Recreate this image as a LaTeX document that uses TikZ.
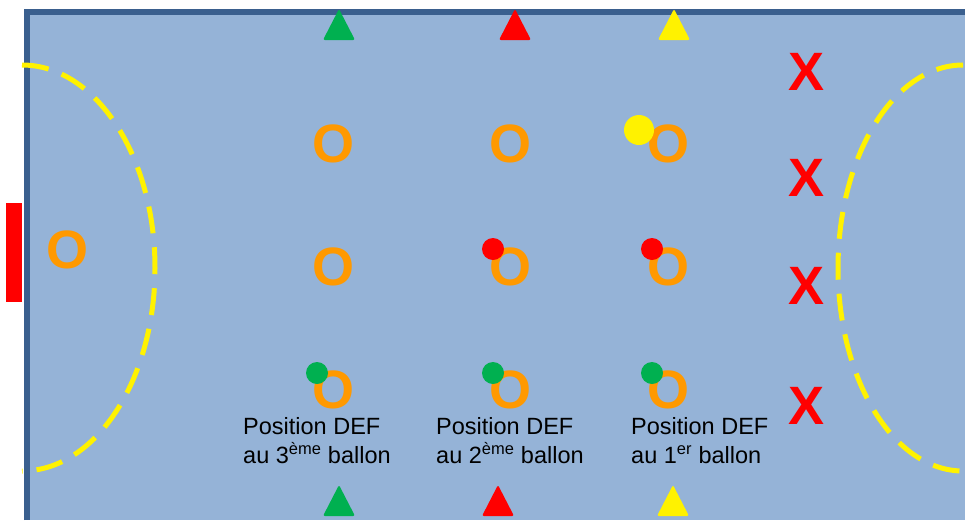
\documentclass[tikz,border=0pt]{standalone}
\usepackage{fontspec}
\setmainfont{Liberation Sans}
\usepackage{tikz}
\usetikzlibrary{positioning}

\definecolor{terrain}{HTML}{95B3D7}
\definecolor{bord}{HTML}{3A5F8E}
\definecolor{orangeatt}{HTML}{FF9900}
\definecolor{vert}{HTML}{00B050}

\begin{document}
\begin{tikzpicture}[
x=1pt,
y=-1pt,
att/.style={
	text=orangeatt,
	font=\fontsize{54}{54}\selectfont\bfseries,
	inner sep=0pt
},
def/.style={
	text=red,
	font=\fontsize{54}{54}\selectfont\bfseries,
	inner sep=0pt
},
ballon/.style={
	circle,
	inner sep=0pt,
	minimum size=22pt
},
cone/.style={
	rounded corners=2pt
},
zone/.style={
	draw=yellow,
	line width=5pt,
	dash pattern=on 27pt off 14pt
},
legende/.style={
	anchor=north west,
	align=left,
	inner sep=0pt,
	font=\fontsize{23.5}{29}\selectfont
}
]

\useasboundingbox (0,0) rectangle (965,520);

% Terrain
\fill[terrain] (27,12) rectangle (965,520);
\draw[bord, line width=6pt] (27,520) -- (27,12) -- (965,12);
\fill[red] (6,203) rectangle (22,302);

% Zones
\draw[zone] (22,65) arc[start angle=-90, end angle=90, x radius=133, y radius=203];
\draw[zone] (963,65) arc[start angle=-90, end angle=-270, x radius=125, y radius=203];

% Plots
\fill[cone, vert] (339,9) -- (355,40) -- (323,40) -- cycle;
\fill[cone, red] (515,9) -- (531,40) -- (499,40) -- cycle;
\fill[cone, yellow] (674,9) -- (690,40) -- (658,40) -- cycle;
\fill[cone, vert] (339,485) -- (355,516) -- (323,516) -- cycle;
\fill[cone, red] (498,485) -- (514,516) -- (482,516) -- cycle;
\fill[cone, yellow] (673,485) -- (689,516) -- (657,516) -- cycle;

% Attaquants
\node [att] (Gardien) at (68,250) {O};
\node [att] (Att 1) at (333,144) {O};
\node [att] (Att 2) at (510,144) {O};
\node [att] (Att 3) at (668,144) {O};
\node [att] (Att 4) at (333,267) {O};
\node [att] (Att 5) at (510,267) {O};
\node [att] (Att 6) at (668,267) {O};
\node [att] (Att 7) at (333,390) {O};
\node [att] (Att 8) at (510,390) {O};
\node [att] (Att 9) at (668,390) {O};

% Defenseurs
\node [def] (Def 1) at (806,72) {X};
\node [def] (Def 2) at (806,178) {X};
\node [def] (Def 3) at (806,286) {X};
\node [def] (Def 4) at (806,406) {X};

% Ballons
\node [ballon, fill=yellow, minimum size=30pt] (Ballon J) at (639,130) {};
\node [ballon, fill=red] (Ballon R1) at (493,249) {};
\node [ballon, fill=red] (Ballon R2) at (652,249) {};
\node [ballon, fill=vert] (Ballon V1) at (317,373) {};
\node [ballon, fill=vert] (Ballon V2) at (493,373) {};
\node [ballon, fill=vert] (Ballon V3) at (652,373) {};

% Legendes
\node [legende] (Pos 3) at (243,417) {Position DEF\\au 3\textsuperscript{ème} ballon};
\node [legende] (Pos 2) at (436,417) {Position DEF\\au 2\textsuperscript{ème} ballon};
\node [legende] (Pos 1) at (631,417) {Position DEF\\au 1\textsuperscript{er} ballon};

\end{tikzpicture}
\end{document}
